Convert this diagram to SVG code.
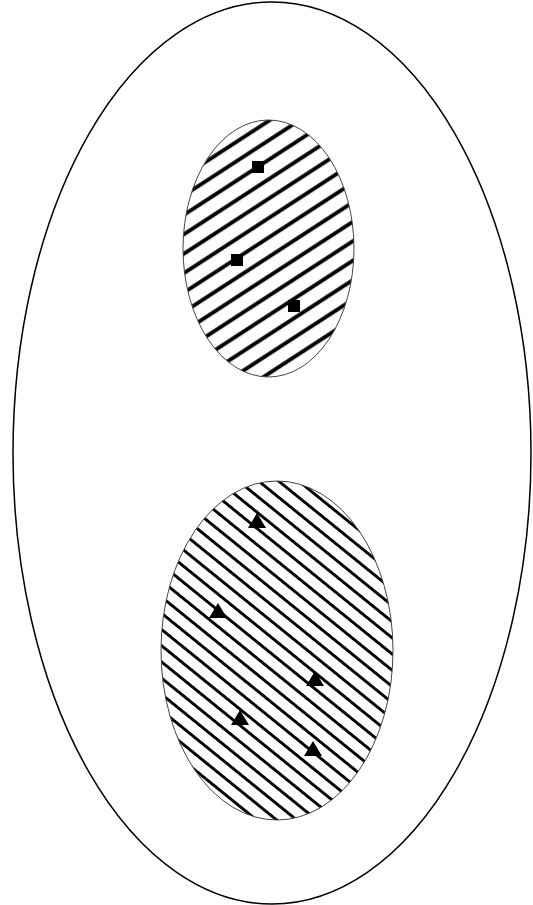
<svg xmlns="http://www.w3.org/2000/svg" width="533" height="905" viewBox="0 0 533 905">
<style>
.outer{fill:none;stroke:#000;stroke-width:1.5}
.blob{stroke:#444;stroke-width:1}
.mark{fill:#000}
</style>
<defs>
<pattern id="hatchA" patternUnits="userSpaceOnUse" width="40" height="16.3" patternTransform="translate(268 248) rotate(-33)">
<rect width="40" height="16.3" fill="#fff"/>
<line x1="0" y1="8" x2="40" y2="8" stroke="#000" stroke-width="3.8"/>
</pattern>
<pattern id="hatchB" patternUnits="userSpaceOnUse" width="40" height="12.6" patternTransform="translate(277 650) rotate(39)">
<rect width="40" height="12.6" fill="#fff"/>
<line x1="0" y1="6.3" x2="40" y2="6.3" stroke="#000" stroke-width="2.8"/>
</pattern>
</defs>
<rect width="533" height="905" fill="#fff"/>
<g id="outer">
<ellipse class="outer" cx="272" cy="453" rx="259" ry="451"/>
</g>
<g id="setA">
<ellipse class="blob" cx="268.5" cy="248.5" rx="85.5" ry="128.5" fill="url(#hatchA)"/>
<rect class="mark" x="252" y="161" width="12" height="12"/>
<rect class="mark" x="231" y="254" width="12" height="12"/>
<rect class="mark" x="288" y="300" width="12" height="12"/>
</g>
<g id="setB">
<ellipse class="blob" cx="277" cy="650.5" rx="116" ry="169.5" fill="url(#hatchB)"/>
<polygon class="mark" points="257,513 266,528 248,528"/>
<polygon class="mark" points="218,603 227,618 209,618"/>
<polygon class="mark" points="315,671 324,686 306,686"/>
<polygon class="mark" points="240,710 249,725 231,725"/>
<polygon class="mark" points="313,741 322,756 304,756"/>
</g>
<g id="connectors"></g>
</svg>
